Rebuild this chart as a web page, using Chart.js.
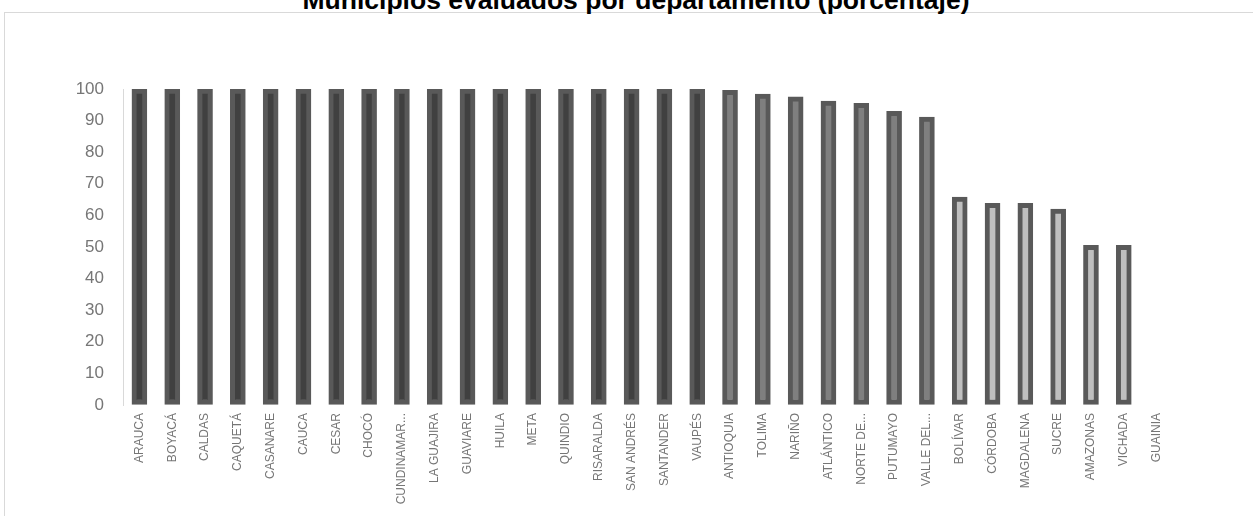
<!DOCTYPE html>
<html lang="es">
<head>
<meta charset="utf-8">
<title>Municipios evaluados por departamento</title>
<script src="https://cdn.jsdelivr.net/npm/chart.js@4/dist/chart.umd.min.js"></script>
<style>
  html, body { margin: 0; padding: 0; overflow: hidden; background: #fff; }
  #marco {
    position: absolute; left: 4px; top: 12px;
    width: 1300px; height: 600px;
    border: 1px solid #d9d9d9; box-sizing: border-box;
  }
  #titulo {
    position: absolute; left: 0; top: -13px; width: 1272px;
    text-align: center; font: bold 26.5px "Liberation Sans", Arial, sans-serif;
    line-height: 26px; color: #000; white-space: nowrap;
  }
  #grafico { position: absolute; left: 0; top: 0; }
</style>
</head>
<body>
<div id="marco"></div>
<div id="titulo">Municipios evaluados por departamento (porcentaje)</div>
<canvas id="grafico" width="1253" height="516"></canvas>
<script>
// Departamentos (etiquetas tal como aparecen, recortadas)
const departamentos = [
  "ARAUCA", "BOYACÁ", "CALDAS", "CAQUETÁ", "CASANARE", "CAUCA", "CESAR",
  "CHOCÓ", "CUNDINAMAR...", "LA GUAJIRA", "GUAVIARE", "HUILA", "META",
  "QUINDIO", "RISARALDA", "SAN ANDRÉS", "SANTANDER", "VAUPÉS", "ANTIOQUIA",
  "TOLIMA", "NARIÑO", "ATLÁNTICO", "NORTE DE...", "PUTUMAYO", "VALLE DEL...",
  "BOLÍVAR", "CÓRDOBA", "MAGDALENA", "SUCRE", "AMAZONAS", "VICHADA", "GUAINIA"
];

// Porcentaje de municipios evaluados
const porcentajes = [
  100, 100, 100, 100, 100, 100, 100,
  100, 100, 100, 100, 100, 100,
  100, 100, 100, 100, 100, 99.6,
  98.4, 97.5, 96.2, 95.5, 92.9, 91.1,
  65.8, 63.8, 63.8, 62, 50.5, 50.5, 0
];

const ticksY = [0, 10, 20, 30, 40, 50, 60, 70, 80, 90, 100];

// Relleno según el rango del valor
function colorRelleno(ctx) {
  const v = ctx.raw;
  if (v >= 100) return "#404040";
  if (v >= 90) return "#7f7f7f";
  return "#bfbfbf";
}

const grisTexto = "#767676";

new Chart(document.querySelector("#grafico"), {
  type: "bar",
  data: {
    labels: departamentos,
    datasets: [
      {
        data: porcentajes,
        backgroundColor: colorRelleno,
        borderColor: "#595959",
        borderWidth: 5,
        borderSkipped: false,
        barThickness: 15,
      },
    ],
  },
  options: {
    responsive: false,
    animation: false,
    layout: { padding: { top: 89, right: 80, bottom: 0, left: 0 } },
    plugins: {
      legend: { display: false },
      tooltip: { enabled: false },
    },
    scales: {
      x: {
        grid: { display: false, drawTicks: false },
        border: { display: false },
        ticks: {
          autoSkip: false,
          minRotation: 90,
          maxRotation: 90,
          padding: 8,
          color: grisTexto,
          font: { family: "'Liberation Sans', Arial, sans-serif", size: 12 },
        },
        afterFit: (scale) => { scale.height = 111; },
      },
      y: {
        min: 0,
        max: 100,
        afterBuildTicks: (scale) => {
          scale.ticks = ticksY.map((v) => ({ value: v }));
        },
        grid: { color: "rgba(0,0,0,0)", drawTicks: false },
        border: { display: true, color: "#d9d9d9", width: 1 },
        ticks: {
          padding: 19,
          color: grisTexto,
          font: { family: "'Liberation Sans', Arial, sans-serif", size: 17 },
        },
        afterFit: (scale) => { scale.width = 123; },
      },
    },
  },
});
</script>
</body>
</html>
